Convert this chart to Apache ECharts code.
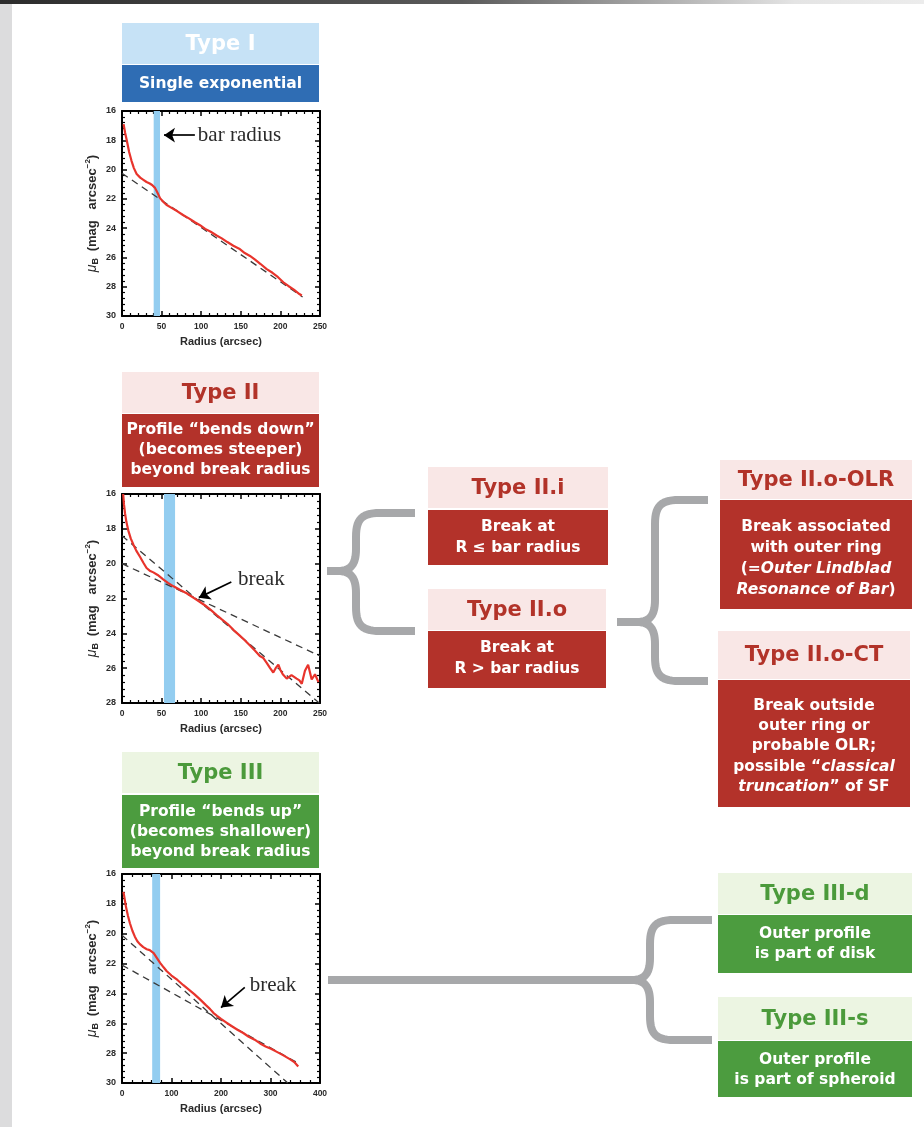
<!DOCTYPE html>
<html>
<head>
<meta charset="utf-8">
<script src="https://cdn.jsdelivr.net/npm/echarts@6/dist/echarts.min.js"></script>
<style>
  html, body { margin: 0; padding: 0; background: #ffffff; }
  #chart { width: 924px; height: 1127px; }
</style>
</head>
<body>
<div id="chart"></div>
<script>
// ---- Surface-brightness profiles (radius in arcsec, mu_B in mag arcsec^-2) ----

// Type I: single exponential disk
const typeIProfile = [
  [2, 16.9], [4, 17.5], [6, 18.0], [9, 18.8], [12, 19.4], [15, 19.9], [18.5, 20.3],
  [23, 20.55], [27, 20.7], [31, 20.85], [35, 20.95], [38, 21.05], [41.7, 21.25],
  [45, 21.6], [48, 21.95], [52, 22.2], [56, 22.4], [62, 22.6], [70, 22.85], [77, 23.1],
  [85, 23.35], [92, 23.6], [98.5, 23.8], [105, 24.05], [112, 24.25], [119.5, 24.5],
  [126, 24.7], [133, 24.95], [140.6, 25.2], [148, 25.4], [155, 25.7], [161.6, 25.9],
  [168, 26.15], [175, 26.45], [182.7, 26.8], [190, 27.05], [197, 27.35], [203.7, 27.7],
  [210, 27.95], [217, 28.2], [224, 28.5], [227, 28.6]
];
const typeIFit = [[0, 20.25], [228, 28.7]];
const typeIBar = [40, 48];
const typeIArrow = [[92, 17.65], [53, 17.65]];

// Type II: down-bending (truncated) disk
const typeIIProfile = [
  [1.5, 16.0], [2.5, 16.6], [3.8, 17.1], [5.5, 17.6], [8, 18.1], [11, 18.55], [14.3, 18.9],
  [18, 19.25], [22.7, 19.6], [27, 19.95], [31, 20.25], [35, 20.4], [39.6, 20.5], [45, 20.65],
  [52, 20.9], [58, 21.1], [65, 21.3], [73, 21.5], [81.6, 21.7], [90, 21.95], [98.5, 22.2],
  [105, 22.4], [112, 22.65], [119.5, 22.95], [126, 23.2], [133, 23.45], [140.6, 23.8],
  [148, 24.1], [155, 24.4], [161.6, 24.7], [168, 25.0], [174, 25.3], [178, 25.4],
  [182.7, 25.7], [187, 26.0], [191, 26.25], [194, 26.0], [197.4, 25.8], [200, 26.1],
  [203, 26.35], [208, 26.6], [214, 26.4], [220.5, 26.6], [224, 26.7], [227, 26.9],
  [231, 26.15], [235, 25.8], [239.5, 26.65], [243.7, 26.35], [248, 26.8]
];
const typeIIInnerFit = [[0, 20.0], [250, 25.3]];
const typeIIOuterFit = [[0, 18.4], [249, 28.0]];
const typeIIBar = [53, 67];
const typeIIArrow = [[138, 21.05], [97, 21.95]];

// Type III: up-bending (anti-truncated) disk
const typeIIIProfile = [
  [3, 17.2], [4, 17.4], [6, 17.8], [8, 18.2], [12, 18.8], [16, 19.3], [21, 19.8], [26, 20.2],
  [31, 20.5], [36, 20.7], [43, 20.9], [50, 21.04], [56, 21.1], [60, 21.15], [64, 21.3],
  [67, 21.4], [72, 21.7], [77, 21.95], [84, 22.25], [90, 22.5], [100, 22.8], [112, 23.1],
  [124, 23.45], [135, 23.75], [146, 24.05], [157.6, 24.4], [170, 24.8], [178, 25.05],
  [184.5, 25.3], [192, 25.5], [200, 25.7], [211, 25.95], [222, 26.2], [234, 26.45],
  [245, 26.65], [256, 26.9], [268, 27.1], [279, 27.35], [290, 27.55], [301, 27.7],
  [312, 27.9], [326, 28.15], [339, 28.4], [348, 28.6], [356, 28.9]
];
const typeIIIInnerFit = [[0, 20.1], [335, 30.0]];
const typeIIIOuterFit = [[0, 22.1], [360, 28.75]];
const typeIIIBar = [61, 77];
const typeIIIArrow = [[248, 23.6], [200, 24.95]];

// Axis ranges for the three panels: [radiusMax, radiusStep, muMax]
const panelI = [250, 50, 30];
const panelII = [250, 50, 28];
const panelIII = [400, 100, 30];
const muMin = 16;
const muStep = 2;

const RED = '#e8342c';
const DASH = '#3a3a3a';
const BAND = '#93cdf0';
const SANS = '"DejaVu Sans"';
const ARIAL = '"Liberation Sans"';
const SERIF = '"Liberation Serif"';

const grids = [
  { left: 122, top: 111, width: 198, height: 205 },
  { left: 122, top: 494, width: 198, height: 209 },
  { left: 122, top: 874, width: 198, height: 209 }
];

function xAxesFor(gi, range) {
  const common = {
    gridIndex: gi, type: 'value', min: 0, max: range[0], interval: range[1],
    axisLine: { show: true, onZero: false, lineStyle: { color: '#000', width: 2 } },
    axisTick: { show: true, inside: true, length: 5, lineStyle: { color: '#000', width: 1.5 } },
    minorTick: { show: true, splitNumber: 5, length: 3, lineStyle: { color: '#000', width: 1.2 } },
    splitLine: { show: false }
  };
  return [
    Object.assign({}, common, {
      position: 'bottom',
      axisLabel: { show: true, margin: 6, fontSize: 8.5, fontWeight: 'bold', fontFamily: ARIAL, color: '#2a2a2a' },
      name: 'Radius (arcsec)', nameLocation: 'middle', nameGap: 20,
      nameTextStyle: { fontSize: 11, fontWeight: 'bold', fontFamily: ARIAL, color: '#2a2a2a' }
    }),
    Object.assign({}, common, { position: 'top', axisLabel: { show: false } })
  ];
}

function yAxesFor(gi, range) {
  const common = {
    gridIndex: gi, type: 'value', inverse: true, min: muMin, max: range[2], interval: muStep,
    axisLine: { show: true, onZero: false, lineStyle: { color: '#000', width: 2 } },
    axisTick: { show: true, inside: true, length: 5, lineStyle: { color: '#000', width: 1.5 } },
    minorTick: { show: true, splitNumber: 5, length: 3, lineStyle: { color: '#000', width: 1.2 } },
    splitLine: { show: false }
  };
  return [
    Object.assign({}, common, {
      position: 'left',
      axisLabel: { show: true, margin: 6, fontSize: 9, fontWeight: 'bold', fontFamily: ARIAL, color: '#2a2a2a' },
      name: '{mu|μ}{sub|B}  {t|(mag   arcsec}{sup|−2}{t|)}',
      nameLocation: 'middle', nameGap: 22, nameRotate: 90,
      nameTextStyle: {
        rich: {
          mu: { fontSize: 14, fontStyle: 'italic', fontFamily: ARIAL, color: '#2a2a2a' },
          sub: { fontSize: 9, fontWeight: 'bold', fontFamily: ARIAL, color: '#2a2a2a', padding: [7, 0, 0, 0] },
          t: { fontSize: 13, fontWeight: 'bold', fontFamily: ARIAL, color: '#2a2a2a' },
          sup: { fontSize: 8, fontWeight: 'bold', fontFamily: ARIAL, color: '#2a2a2a', padding: [0, 0, 8, 0] }
        }
      }
    }),
    Object.assign({}, common, { position: 'right', axisLabel: { show: false } })
  ];
}

const xAxis = [].concat(xAxesFor(0, panelI), xAxesFor(1, panelII), xAxesFor(2, panelIII));
const yAxis = [].concat(yAxesFor(0, panelI), yAxesFor(1, panelII), yAxesFor(2, panelIII));

function profileSeries(gi, data, bar) {
  return {
    type: 'line', xAxisIndex: gi * 2, yAxisIndex: gi * 2, data: data,
    showSymbol: false, symbol: 'none', z: 5, clip: true,
    lineStyle: { color: RED, width: 2.2 },
    markArea: {
      silent: true,
      itemStyle: { color: BAND, opacity: 1 },
      data: [[{ xAxis: bar[0] }, { xAxis: bar[1] }]]
    }
  };
}

function fitSeries(gi, data) {
  return {
    type: 'line', xAxisIndex: gi * 2, yAxisIndex: gi * 2, data: data,
    showSymbol: false, symbol: 'none', z: 4, clip: true,
    lineStyle: { color: DASH, width: 1.3, type: [7, 5] }
  };
}

function arrowSeries(gi, arrow, text, offset) {
  return {
    type: 'line', xAxisIndex: gi * 2, yAxisIndex: gi * 2, data: [],
    markLine: {
      silent: true, animation: false,
      symbol: ['none', 'arrow'], symbolSize: 11,
      lineStyle: { color: '#000', width: 1.7, type: 'solid' },
      label: {
        show: true, position: 'start', distance: 3, formatter: text, offset: offset,
        fontFamily: SERIF, fontSize: 21, color: '#2b2b2b'
      },
      data: [[{ coord: arrow[0] }, { coord: arrow[1] }]]
    }
  };
}

const series = [
  profileSeries(0, typeIProfile, typeIBar),
  fitSeries(0, typeIFit),
  arrowSeries(0, typeIArrow, 'bar radius', [0, 0]),
  profileSeries(1, typeIIProfile, typeIIBar),
  fitSeries(1, typeIIInnerFit),
  fitSeries(1, typeIIOuterFit),
  arrowSeries(1, typeIIArrow, 'break', [4, -1]),
  profileSeries(2, typeIIIProfile, typeIIIBar),
  fitSeries(2, typeIIIInnerFit),
  fitSeries(2, typeIIIOuterFit),
  arrowSeries(2, typeIIIArrow, 'break', [26, 0])
];

// ---- Classification boxes, braces and page decoration ----
const COLORS = {
  blueLight: '#c6e2f6', blueDark: '#2f6db4',
  redLight: '#f9e7e6', redDark: '#b3322a', redTitle: '#b23329',
  greenLight: '#ecf5e2', greenDark: '#4c9c3f', greenTitle: '#4b9a3b'
};

const graphics = [];

function rect(x, y, w, h, fill) {
  graphics.push({ type: 'rect', z: 10, silent: true, shape: { x: x, y: y, width: w, height: h }, style: { fill: fill } });
}

function text(cx, cy, str, size, color, rich) {
  const style = {
    text: str, x: cx, y: cy, textAlign: 'center', textVerticalAlign: 'middle',
    fontFamily: SANS, fontWeight: 'bold', fontSize: size, fill: color
  };
  if (rich) style.rich = rich;
  graphics.push({ type: 'text', z: 11, silent: true, style: style });
}

const italic = (size, color) => ({ i: { fontFamily: SANS, fontWeight: 'bold', fontStyle: 'italic', fontSize: size, fill: color } });

function card(x, w, headY, headH, bodyY, bodyH, light, dark, title, titleColor, lines, lineYs, rich) {
  rect(x, headY, w, headH, light);
  rect(x, bodyY, w, bodyH, dark);
  text(x + w / 2, headY + headH / 2 + 1, title, 21, titleColor);
  lines.forEach((ln, k) => text(x + w / 2, lineYs[k], ln, 15.5, '#ffffff', rich));
}

// left column
card(122, 197, 23, 41, 65, 37, COLORS.blueLight, COLORS.blueDark, 'Type I', '#ffffff',
  ['Single exponential'], [84]);
card(122, 197, 372, 41, 414, 73, COLORS.redLight, COLORS.redDark, 'Type II', COLORS.redTitle,
  ['Profile \u201cbends down\u201d', '(becomes steeper)', 'beyond break radius'], [430, 450, 470]);
card(122, 197, 752, 41, 795, 73, COLORS.greenLight, COLORS.greenDark, 'Type III', COLORS.greenTitle,
  ['Profile \u201cbends up\u201d', '(becomes shallower)', 'beyond break radius'], [812, 832, 852]);

// middle column
card(428, 180, 467, 41, 510, 55, COLORS.redLight, COLORS.redDark, 'Type II.i', COLORS.redTitle,
  ['Break at', 'R \u2264 bar radius'], [527, 548]);
card(428, 178, 589, 41, 631, 57, COLORS.redLight, COLORS.redDark, 'Type II.o', COLORS.redTitle,
  ['Break at', 'R > bar radius'], [648, 669]);

// right column
card(720, 192, 460, 39, 500, 109, COLORS.redLight, COLORS.redDark, 'Type II.o-OLR', COLORS.redTitle,
  ['Break associated', 'with outer ring', '(={i|Outer Lindblad}', '{i|Resonance of Bar})'],
  [527, 548, 569, 590], italic(15.5, '#ffffff'));
card(718, 192, 631, 48, 680, 127, COLORS.redLight, COLORS.redDark, 'Type II.o-CT', COLORS.redTitle,
  ['Break outside', 'outer ring or', 'probable OLR;', 'possible \u201c{i|classical}', '{i|truncation}\u201d of SF'],
  [706, 726, 746, 767, 787], italic(15.5, '#ffffff'));
card(718, 194, 873, 41, 915, 58, COLORS.greenLight, COLORS.greenDark, 'Type III-d', COLORS.greenTitle,
  ['Outer profile', 'is part of disk'], [934, 954]);
card(718, 194, 997, 43, 1041, 56, COLORS.greenLight, COLORS.greenDark, 'Type III-s', COLORS.greenTitle,
  ['Outer profile', 'is part of spheroid'], [1060, 1080]);

// curly braces drawn as sampled polylines
function cubic(p0, p1, p2, p3, n) {
  const out = [];
  for (let k = 1; k <= n; k++) {
    const t = k / n, u = 1 - t;
    out.push([
      u * u * u * p0[0] + 3 * u * u * t * p1[0] + 3 * u * t * t * p2[0] + t * t * t * p3[0],
      u * u * u * p0[1] + 3 * u * u * t * p1[1] + 3 * u * t * t * p2[1] + t * t * t * p3[1]
    ]);
  }
  return out;
}

function braceHalf(tipX, tipY, x, armY, armEnd) {
  const d = armY > tipY ? 1 : -1;
  let pts = [[tipX, tipY], [x - 18, tipY]];
  pts = pts.concat(cubic([x - 18, tipY], [x - 5, tipY], [x, tipY + d * 7], [x, tipY + d * 22], 14));
  pts.push([x, armY - d * 24]);
  pts = pts.concat(cubic([x, armY - d * 24], [x, armY - d * 6], [x + 6, armY], [x + 24, armY], 14));
  pts.push([armEnd, armY]);
  graphics.push({
    type: 'polyline', z: 9, silent: true,
    shape: { points: pts },
    style: { stroke: '#a7a8aa', lineWidth: 8, fill: null, lineJoin: 'round' }
  });
}

function brace(tipX, tipY, x, topY, botY, armEnd) {
  braceHalf(tipX, tipY, x, topY, armEnd);
  braceHalf(tipX, tipY, x, botY, armEnd);
}

brace(327, 571, 356, 513, 631, 415);
brace(617, 622, 655, 500, 681, 708);
brace(328, 980, 650, 920, 1040, 712);

// page edge decoration
graphics.push({
  type: 'rect', z: 1, silent: true, shape: { x: 0, y: 4, width: 12, height: 1123 },
  style: { fill: '#dcdcdd' }
});
graphics.push({
  type: 'rect', z: 1, silent: true, shape: { x: 0, y: 0, width: 924, height: 4 },
  style: {
    fill: new echarts.graphic.LinearGradient(0, 0, 1, 0, [
      { offset: 0, color: '#2c2c2c' },
      { offset: 0.5, color: '#5a5a5a' },
      { offset: 0.86, color: '#e4e4e4' },
      { offset: 1, color: '#ececec' }
    ])
  }
});

const chart = echarts.init(document.getElementById('chart'), null, { renderer: 'canvas' });
chart.setOption({
  backgroundColor: '#ffffff',
  animation: false,
  grid: grids.map(g => Object.assign({ show: false, containLabel: false }, g)),
  xAxis: xAxis,
  yAxis: yAxis,
  series: series,
  graphic: { elements: graphics }
});
</script>
</body>
</html>
